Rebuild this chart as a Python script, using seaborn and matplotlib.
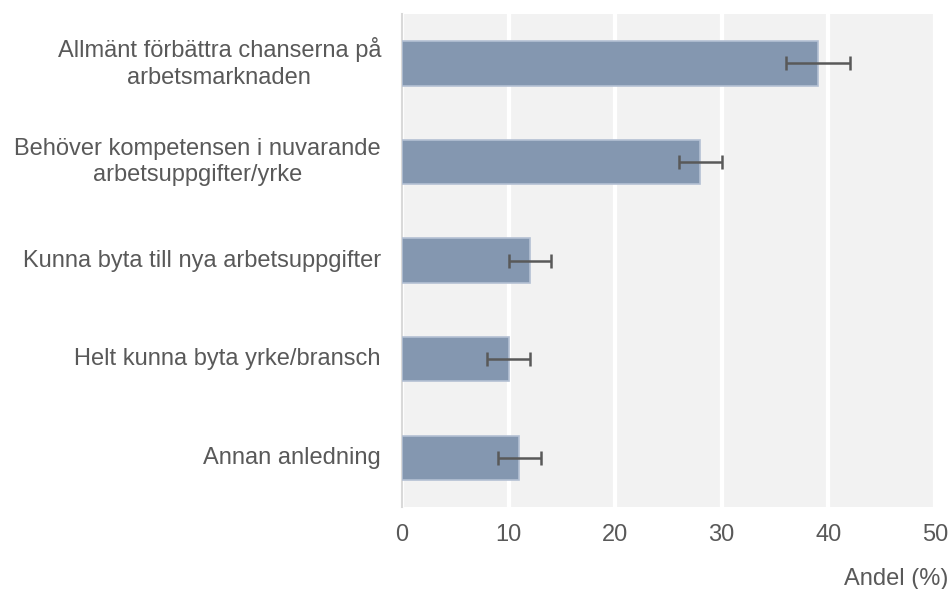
import matplotlib
matplotlib.use("Agg")
import matplotlib.pyplot as plt
import matplotlib.transforms as mtrans
import seaborn as sns
import pandas as pd

categories = [
    "Allmänt förbättra chanserna på\narbetsmarknaden",
    "Behöver kompetensen i nuvarande\narbetsuppgifter/yrke",
    "Kunna byta till nya arbetsuppgifter",
    "Helt kunna byta yrke/bransch",
    "Annan anledning",
]
values = [39, 28, 12, 10, 11]
err_low = [36, 26, 10, 8, 9]
err_high = [42, 30, 14, 12, 13]
xticks = [0, 10, 20, 30, 40, 50]

sns.set_theme(style="white")
plt.rcParams["font.family"] = ["Liberation Sans", "DejaVu Sans"]

df = pd.DataFrame({"cat": categories, "val": values})

fig = plt.figure(figsize=(9.5, 5.89), dpi=100)
ax = fig.add_axes([0.4232, 0.1392, 0.984 - 0.4232, 0.9762 - 0.1392])
ax.set_facecolor("#f2f2f2")

sns.barplot(data=df, y="cat", x="val", orient="h", color="#8497b0",
            saturation=1, width=0.45, edgecolor="#b4c0d3", linewidth=1.2,
            ax=ax, zorder=3)

xerr = [[v - l for v, l in zip(values, err_low)],
        [h - v for v, h in zip(values, err_high)]]
ax.errorbar(values, range(len(categories)), xerr=xerr, fmt="none",
            ecolor="#595959", elinewidth=1.8, capsize=5, capthick=1.8, zorder=4)

ax.set_xlim(0, 50)
ax.set_ylim(len(categories) - 0.5, -0.5)
ax.set_xticks(xticks)
ax.xaxis.grid(True, color="white", linewidth=3, zorder=1)
ax.set_axisbelow(True)
for s in ["top", "right", "bottom"]:
    ax.spines[s].set_visible(False)
ax.spines["left"].set_color("#d9d9d9")
ax.spines["left"].set_linewidth(1.5)

ax.tick_params(axis="both", length=0, labelsize=17, colors="#595959")
ax.tick_params(axis="x", pad=12)
ax.set_ylabel("")
ax.set_xlabel("")
ax.set_yticklabels([])

fig.text(0.998, 1 - 579 / 589, "Andel (%)", ha="right", va="center",
         fontsize=17, color="#595959")

trans = mtrans.blended_transform_factory(fig.transFigure, ax.transData)
for i, c in enumerate(categories):
    fig.text(381 / 950, i, c, transform=trans, ha="right", va="center",
             fontsize=17, color="#595959", multialignment="center",
             linespacing=1.28)

fig.savefig("out.png", dpi=100)
